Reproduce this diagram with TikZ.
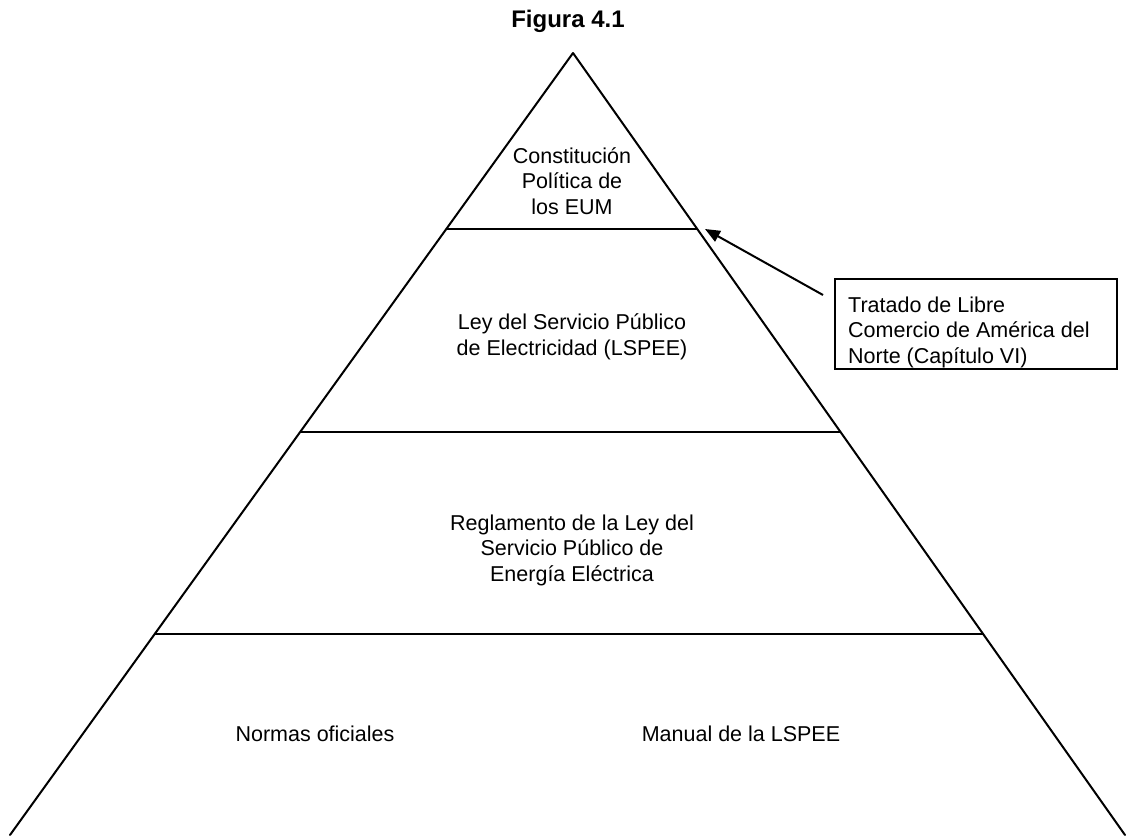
\documentclass[tikz,border=0pt]{standalone}
\usepackage{fontspec}
\setmainfont{Liberation Sans}
\usetikzlibrary{arrows.meta}
\tikzset{
  edge/.style={line width=2pt, line cap=round, line join=round},
  label/.style={align=center, inner sep=0pt, font=\fontsize{21.5}{25.5}\selectfont},
  boxtext/.style={align=left, inner sep=0pt, font=\fontsize{21.5}{25.5}\selectfont},
  notebox/.style={draw, line width=2pt, minimum width=282pt, minimum height=90pt, inner sep=0pt},
  pointer/.style={line width=2pt, -{Triangle[length=15pt,width=12pt]}}
}
\begin{document}
\begin{tikzpicture}[x=1pt,y=-1pt]
  \useasboundingbox (0,0) rectangle (1126,835);
  % title
  \node[inner sep=0pt, font=\fontsize{24}{28}\selectfont\bfseries] (title) at (568,21) {Figura 4.1};
  % pyramid outline
  \coordinate (apex) at (573,53);
  \coordinate (bl) at (10,835);
  \coordinate (br) at (1125,835);
  \draw[edge] (bl) -- (apex) -- (br);
  % level dividers
  \coordinate (l1a) at (447,229);
  \coordinate (l1b) at (697,229);
  \coordinate (l2a) at (301,432);
  \coordinate (l2b) at (840,432);
  \coordinate (l3a) at (155,634);
  \coordinate (l3b) at (983,634);
  \draw[edge] (l1a) -- (l1b);
  \draw[edge] (l2a) -- (l2b);
  \draw[edge] (l3a) -- (l3b);
  % level texts
  \node[label] (lvl1) at (572,181) {Constitución\\Política de\\los EUM};
  \node[label] (lvl2) at (572,337) {Ley del Servicio Público\\de Electricidad (LSPEE)};
  \node[label] (lvl3) at (572,550) {Reglamento de la Ley del\\Servicio Público de\\Energía Eléctrica};
  \node[label] (lvl4a) at (315,734) {Normas oficiales};
  \node[label] (lvl4b) at (741,734) {Manual de la LSPEE};
  % side note with pointer
  \node[notebox] (note) at (976,324) {};
  \node[boxtext, anchor=west] (notetext) at (848,332) {Tratado de Libre\\Comercio de América del\\Norte (Capítulo VI)};
  \coordinate (ptrstart) at (823,295);
  \coordinate (ptrend) at (705,229);
  \draw[pointer] (ptrstart) -- (ptrend);
\end{tikzpicture}
\end{document}
